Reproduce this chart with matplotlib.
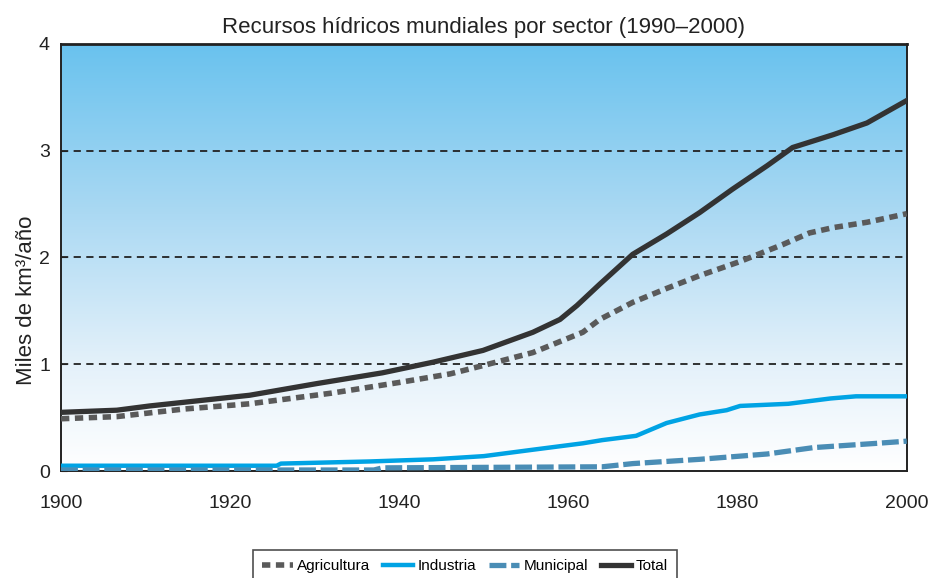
import numpy as np
import matplotlib
matplotlib.use("Agg")
import matplotlib.pyplot as plt
from matplotlib.colors import LinearSegmentedColormap

plt.rcParams['font.family'] = ['Liberation Sans', 'DejaVu Sans']

title = "Recursos hídricos mundiales por sector (1990–2000)"
ylabel = "Miles de km³/año"

agri_years = [1900, 1906.6, 1914.4, 1922.3, 1932, 1940, 1946, 1950, 1955.8, 1961.7, 1963.7,
              1967.6, 1971.6, 1975.5, 1980.2, 1985.3, 1988.5, 1991.3, 1995.3, 2000]
agri_vals = [0.49, 0.51, 0.58, 0.63, 0.73, 0.83, 0.91, 0.99, 1.11, 1.30, 1.42,
             1.58, 1.71, 1.83, 1.96, 2.12, 2.23, 2.28, 2.33, 2.41]

ind_years = [1900, 1925.5, 1926, 1936.5, 1944, 1950, 1955.8, 1961.7, 1964, 1968, 1971.6,
             1975.5, 1978.7, 1980.3, 1986, 1991, 1994, 2000]
ind_vals = [0.05, 0.05, 0.07, 0.09, 0.11, 0.14, 0.20, 0.26, 0.29, 0.33, 0.45,
            0.53, 0.57, 0.61, 0.63, 0.68, 0.70, 0.70]

mun_years = [1900, 1937, 1938, 1964, 1967.6, 1975.5, 1983.5, 1989, 1996.5, 2000]
mun_vals = [0.01, 0.01, 0.03, 0.04, 0.07, 0.11, 0.16, 0.22, 0.26, 0.28]

tot_years = [1900, 1906.6, 1910.5, 1916.4, 1922.3, 1930.3, 1938, 1944, 1949.9, 1955.8,
             1959, 1961, 1963.7, 1967.6, 1971.6, 1975.5, 1979.4, 1983.5, 1986.5, 1991.3,
             1995.3, 2000]
tot_vals = [0.55, 0.57, 0.61, 0.66, 0.71, 0.82, 0.92, 1.02, 1.13, 1.30,
            1.42, 1.55, 1.75, 2.03, 2.22, 2.42, 2.64, 2.86, 3.03, 3.15,
            3.26, 3.47]

xticks = [1900, 1920, 1940, 1960, 1980, 2000]
yticks = [0, 1, 2, 3, 4]

fig = plt.figure(figsize=(9.3, 5.78), dpi=100)
ax = fig.add_axes([0.0656, 0.185, 0.9094, 0.739])

# gradient background
cmap = LinearSegmentedColormap.from_list(
    "sky", [(0.0, "#ffffff"), (0.25, "#e4f1fa"), (0.6, "#abd9f3"), (1.0, "#69c2ee")])
grad = np.linspace(0, 1, 256).reshape(-1, 1)
ax.imshow(grad, aspect='auto', cmap=cmap, origin='lower',
          extent=[1900, 2000, 0, 4], zorder=0)

for y in [1, 2, 3]:
    ax.axhline(y, color='#222222', lw=1.3, ls=(0, (4, 3)), zorder=1)

ax.plot(agri_years, agri_vals, color='#5a5a5a', lw=4, ls=(0, (1.5, 1.0)),
        solid_capstyle='butt', dash_capstyle='butt', label='Agricultura', zorder=3)
ax.plot(ind_years, ind_vals, color='#00a3e4', lw=3.2, label='Industria', zorder=3)
ax.plot(mun_years, mun_vals, color='#4a8db5', lw=3.8, ls=(0, (3.2, 0.9)),
        dash_capstyle='butt', label='Municipal', zorder=4)
ax.plot(tot_years, tot_vals, color='#333333', lw=3.8, label='Total', zorder=5)

ax.set_xlim(1900, 2000)
ax.set_ylim(0, 4)
ax.set_xticks(xticks)
ax.set_yticks(yticks)
ax.tick_params(axis='x', length=0, pad=17, labelsize=14, colors='#222222')
ax.tick_params(axis='y', direction='in', length=4, pad=8, labelsize=14, colors='#222222')
for s in ax.spines.values():
    s.set_color('#222222')
    s.set_linewidth(1.4)
ax.spines['top'].set_linewidth(2)

ax.set_ylabel(ylabel, fontsize=16, color='#222222', labelpad=14)
ax.yaxis.set_label_coords(-0.028, 0.40)
ax.set_title(title, fontsize=16, color='#222222', pad=8)

leg = fig.legend(loc='upper center', bbox_to_anchor=(0.5, 0.062), ncol=4,
                 fontsize=11, frameon=True, fancybox=False, edgecolor='#222222',
                 handlelength=2.0, handletextpad=0.3, columnspacing=0.8,
                 borderpad=0.6)
leg.get_frame().set_linewidth(1.2)

fig.savefig("out.png", dpi=100)
